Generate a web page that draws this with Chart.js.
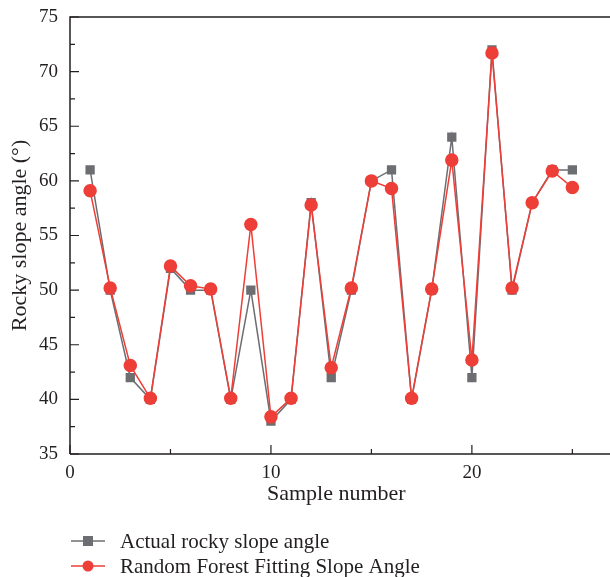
<!DOCTYPE html>
<html>
<head>
<meta charset="utf-8">
<script src="https://cdn.jsdelivr.net/npm/chart.js@4.4.1/dist/chart.umd.min.js"></script>
<style>
  html, body { margin: 0; padding: 0; background: #fff; }
  #wrap { width: 610px; height: 577px; }
</style>
</head>
<body>
<div id="wrap"><canvas id="slopeChart" width="610" height="577"></canvas></div>
<script>
const sampleNumbers = [1, 2, 3, 4, 5, 6, 7, 8, 9, 10, 11, 12, 13, 14, 15, 16, 17, 18, 19, 20, 21, 22, 23, 24, 25];
const actualAngle = [61, 50, 42, 40, 52, 50, 50, 40, 50, 38, 40, 58, 42, 50, 60, 61, 40, 50, 64, 42, 72, 50, 58, 61, 61];
const forestAngle = [59.1, 50.2, 43.1, 40.1, 52.2, 50.4, 50.1, 40.1, 56, 38.4, 40.1, 57.8, 42.9, 50.2, 60, 59.3, 40.1, 50.1, 61.9, 43.6, 71.7, 50.2, 58, 60.9, 59.4];
const xTicks = [0, 10, 20];
const yTicks = [35, 40, 45, 50, 55, 60, 65, 70, 75];

const grey = "#6d6e72";
const red = "#ee3e38";
const serif = "'Liberation Serif', 'DejaVu Serif', serif";
const axisColor = "#231f20";

// inward ticks, top frame and the legend under the axis
const framePlugin = {
    id: "frame",
    afterDraw(chart) {
        const c = chart.ctx;
        const area = chart.chartArea;
        const xs = chart.scales.x;
        const ys = chart.scales.y;
        c.save();
        c.strokeStyle = axisColor;
        c.lineWidth = 1.5;
        c.beginPath();
        c.moveTo(area.left, area.bottom);
        c.lineTo(area.left, area.top);
        c.lineTo(610, area.top);
        c.moveTo(area.left, area.bottom);
        c.lineTo(610, area.bottom);
        c.stroke();

        c.lineWidth = 1.2;
        c.beginPath();
        for (let v = 0; v <= 25; v += 5) {
            const px = xs.getPixelForValue(v);
            const len = v % 10 === 0 ? 9 : 5;
            c.moveTo(px, area.bottom);
            c.lineTo(px, area.bottom - len);
        }
        for (let v = 35; v <= 75; v += 2.5) {
            const py = ys.getPixelForValue(v);
            const len = v % 5 === 0 ? 9 : 5;
            c.moveTo(area.left, py);
            c.lineTo(area.left + len, py);
        }
        c.stroke();

        // legend
        const items = [
            { label: chart.data.datasets[0].label, color: grey, style: "rect" },
            { label: chart.data.datasets[1].label, color: red, style: "circle" }
        ];
        items.forEach((it, i) => {
            const y = 541 + i * 25;
            c.strokeStyle = it.color;
            c.lineWidth = 1.5;
            c.beginPath();
            c.moveTo(71, y);
            c.lineTo(105, y);
            c.stroke();
            c.fillStyle = it.color;
            if (it.style === "rect") {
                c.fillRect(88 - 5, y - 5, 10, 10);
            } else {
                c.beginPath();
                c.arc(88, y, 5.5, 0, Math.PI * 2);
                c.fill();
            }
            c.fillStyle = axisColor;
            c.font = "21px " + serif;
            c.textBaseline = "middle";
            c.fillText(it.label, 120, y + 1);
        });
        c.restore();
    }
};

const ctx = document.getElementById("slopeChart").getContext("2d");
const slopeChart = new Chart(ctx, {
    type: "line",
    data: {
        labels: sampleNumbers,
        datasets: [{
            label: "Actual rocky slope angle",
            data: sampleNumbers.map((n, i) => ({ x: n, y: actualAngle[i] })),
            borderColor: grey,
            backgroundColor: grey,
            borderWidth: 1.5,
            pointStyle: "rect",
            pointRadius: 5.5,
            pointHoverRadius: 5.5,
            tension: 0,
            order: 2
        }, {
            label: "Random Forest Fitting Slope Angle",
            data: sampleNumbers.map((n, i) => ({ x: n, y: forestAngle[i] })),
            borderColor: red,
            backgroundColor: red,
            borderWidth: 1.5,
            pointStyle: "circle",
            pointRadius: 6,
            pointHoverRadius: 6,
            tension: 0,
            order: 1
        }]
    },
    options: {
        responsive: false,
        animation: false,
        events: [],
        layout: { padding: { top: 17, right: 0, bottom: 70, left: 7 } },
        plugins: {
            legend: { display: false },
            tooltip: { enabled: false }
        },
        scales: {
            x: {
                type: "linear",
                min: 0,
                max: 26.5,
                afterFit: (s) => { s.height = 53; s.paddingLeft = 0; s.paddingRight = 0; },
                afterBuildTicks: (s) => { s.ticks = xTicks.map(v => ({ value: v })); },
                grid: { display: false, drawTicks: false },
                border: { display: false },
                ticks: {
                    color: axisColor,
                    padding: 8,
                    font: { family: serif, size: 19 }
                },
                title: {
                    display: true,
                    text: "Sample number",
                    color: axisColor,
                    font: { family: serif, size: 22 },
                    padding: 0
                }
            },
            y: {
                min: 35,
                max: 75,
                afterFit: (s) => { s.width = 63; s.paddingTop = 0; s.paddingBottom = 0; },
                afterBuildTicks: (s) => { s.ticks = yTicks.map(v => ({ value: v })); },
                grid: { display: false, drawTicks: false },
                border: { display: false },
                ticks: {
                    color: axisColor,
                    padding: 12,
                    font: { family: serif, size: 19 }
                },
                title: {
                    display: true,
                    text: "Rocky slope angle (°)",
                    color: axisColor,
                    font: { family: serif, size: 22 },
                    padding: 0
                }
            }
        }
    },
    plugins: [framePlugin]
});
</script>
</body>
</html>
